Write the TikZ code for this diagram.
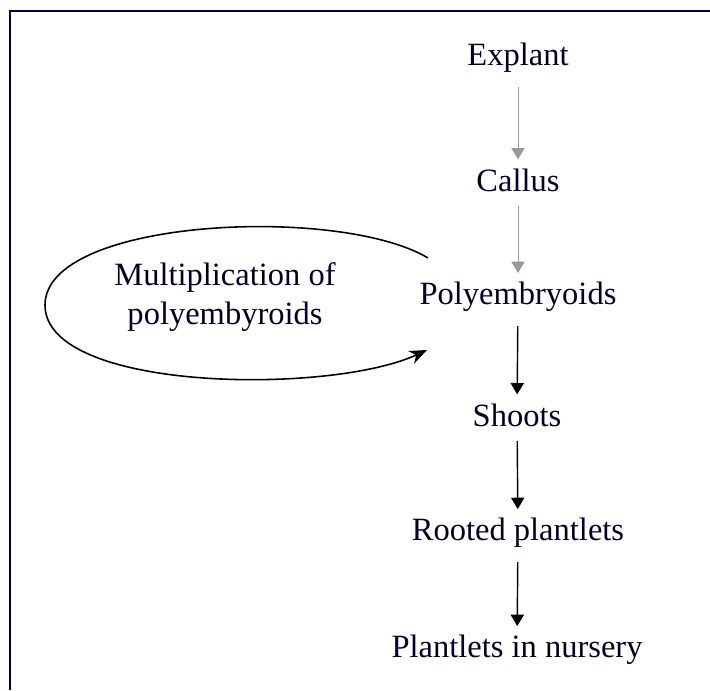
\documentclass[tikz,border=0pt]{standalone}
\usepackage{fontspec}
\setmainfont{Liberation Serif}
\usetikzlibrary{arrows.meta}

\begin{document}
\begin{tikzpicture}[x=0.02cm, y=-0.02cm,
  stage/.style={font=\fontsize{18.5}{22}\selectfont, text=black!85!blue, inner sep=2pt},
  flow/.style={-{Triangle[width=7.5pt,length=6.5pt]}, line width=0.8pt, shorten >=3pt, shorten <=6pt},
  faint/.style={draw=black!40, line width=0.5pt}]

        \useasboundingbox (0,0) rectangle (710,690);

        % frame
        \draw[line width=1.5pt, black!75!blue] (10,690) -- (10,11) -- (710,11);

        % stages
        \node[stage] (explant) at (518,58) {Explant};
        \node[stage] (callus) at (518,180) {Callus};
        \node[stage] (poly) at (518,297) {Polyembryoids};
        \node[stage] (shoots) at (517,415) {Shoots};
        \node[stage] (rooted) at (518,533) {Rooted plantlets};
        \node[stage] (nursery) at (517,650) {Plantlets in nursery};

        % arrows
        \draw[flow, faint] (explant) -- (callus);
        \draw[flow, faint] (callus) -- (poly);
        \draw[flow] (poly) -- (shoots);
        \draw[flow] (shoots) -- (rooted);
        \draw[flow] (rooted) -- (nursery);

        % loop
        \node[stage, align=center] (mult) at (225,297) {Multiplication of\\polyembyroids};
        \coordinate (loopout) at (428,258);
        \coordinate (loopin) at (427,350);
        \draw[-{Stealth[length=10pt,width=8pt]}, line width=0.9pt]
          (loopout) .. controls (340,205) and (45,218) .. (45,305)
                    .. controls (45,392) and (330,395) .. (loopin);

\end{tikzpicture}
\end{document}
